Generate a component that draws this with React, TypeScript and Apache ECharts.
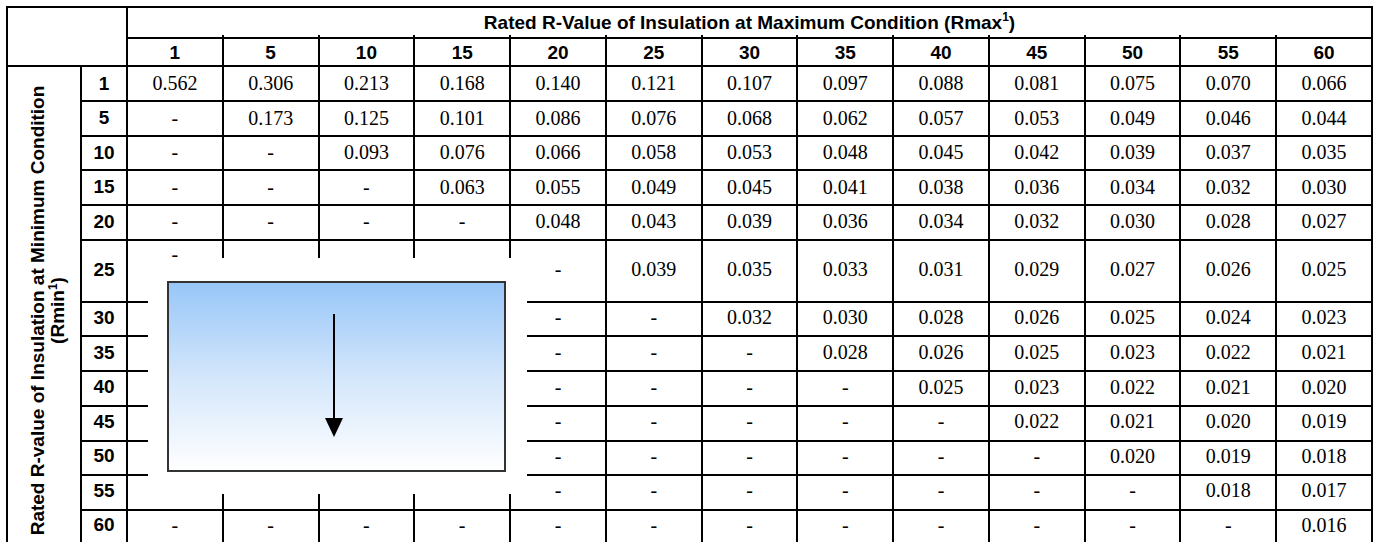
import React, { useEffect, useRef } from "react";
import * as echarts from "echarts";

// ---------- data ----------
const rmaxLabels = ["1", "5", "10", "15", "20", "25", "30", "35", "40", "45", "50", "55", "60"];
const rminLabels = ["1", "5", "10", "15", "20", "25", "30", "35", "40", "45", "50", "55", "60"];

// null = "-" (not applicable)
const r1 = [0.562, 0.306, 0.213, 0.168, 0.14, 0.121, 0.107, 0.097, 0.088, 0.081, 0.075, 0.07, 0.066];
const r5 = [null, 0.173, 0.125, 0.101, 0.086, 0.076, 0.068, 0.062, 0.057, 0.053, 0.049, 0.046, 0.044];
const r10 = [null, null, 0.093, 0.076, 0.066, 0.058, 0.053, 0.048, 0.045, 0.042, 0.039, 0.037, 0.035];
const r15 = [null, null, null, 0.063, 0.055, 0.049, 0.045, 0.041, 0.038, 0.036, 0.034, 0.032, 0.03];
const r20 = [null, null, null, null, 0.048, 0.043, 0.039, 0.036, 0.034, 0.032, 0.03, 0.028, 0.027];
const r25 = [null, null, null, null, null, 0.039, 0.035, 0.033, 0.031, 0.029, 0.027, 0.026, 0.025];
const r30 = [null, null, null, null, null, null, 0.032, 0.03, 0.028, 0.026, 0.025, 0.024, 0.023];
const r35 = [null, null, null, null, null, null, null, 0.028, 0.026, 0.025, 0.023, 0.022, 0.021];
const r40 = [null, null, null, null, null, null, null, null, 0.025, 0.023, 0.022, 0.021, 0.02];
const r45 = [null, null, null, null, null, null, null, null, null, 0.022, 0.021, 0.02, 0.019];
const r50 = [null, null, null, null, null, null, null, null, null, null, 0.02, 0.019, 0.018];
const r55 = [null, null, null, null, null, null, null, null, null, null, null, 0.018, 0.017];
const r60 = [null, null, null, null, null, null, null, null, null, null, null, null, 0.016];
const tableRows: (number | null)[][] = [r1, r5, r10, r15, r20, r25, r30, r35, r40, r45, r50, r55, r60];

const xTitle = "Rated R-Value of Insulation at Maximum Condition (Rmax";
const yTitle = "Rated R-value of Insulation at Minimum Condition";

// ---------- layout (not data) ----------
const L = { left: 7, right: 1372, top: 7, mid: 38, head: 66, bottom: 545, rowCol: 81, data: 127 };
const ROW_UNITS = [1, 1, 1, 1, 1, 1.78, 1, 1, 1, 1, 1, 1, 1];
const SANS = "Arial, 'Liberation Sans', Helvetica, sans-serif";
const SERIF = "'Times New Roman', 'Liberation Serif', serif";
const HEAD_FS = 19;
const CELL_FS = 20;

const rowStart: number[] = [];
let acc = 0;
ROW_UNITS.forEach((u) => {
  rowStart.push(acc);
  acc += u;
});
const TOTAL_UNITS = acc;
const rowCenters = ROW_UNITS.map((u, i) => rowStart[i] + u / 2);

// hidden area (covered by annotation): rows 25..55, columns 1..15
const isHidden = (r: number, c: number) => r >= 5 && r <= 11 && c <= 3 && !(r === 5 && c === 0);

type Cell = { col: number; y0: number; y1: number; text: string; atTop: boolean };
const cells: Cell[] = [];
tableRows.forEach((vals, r) =>
  vals.forEach((v, c) => {
    if (isHidden(r, c)) return;
    cells.push({
      col: c,
      y0: rowStart[r],
      y1: rowStart[r] + ROW_UNITS[r],
      text: v == null ? "-" : v.toFixed(3),
      atTop: r === 5 && c === 0,
    });
  })
);

function buildGraphic() {
  const unit = (L.bottom - L.head) / TOTAL_UNITS;
  const yOf = (u: number) => Math.round(L.head + u * unit);
  const colW = (L.right - L.data) / 13;
  const xOf = (j: number) => Math.round(L.data + j * colW);
  const els: any[] = [];
  const line = (x1: number, y1: number, x2: number, y2: number) =>
    els.push({
      type: "line",
      shape: { x1, y1, x2, y2 },
      style: { stroke: "#000", lineWidth: 2 },
      silent: true,
    });
  // outer frame
  line(L.left, L.top, L.right, L.top);
  line(L.left, L.top - 1, L.left, L.bottom);
  line(L.right, L.top - 1, L.right, L.bottom);
  line(L.left, L.bottom, L.right, L.bottom);
  // header lines
  line(L.data, L.mid, L.right, L.mid);
  line(L.left, L.head, L.right, L.head);
  line(L.data, L.top, L.data, L.bottom);
  line(L.rowCol, L.head, L.rowCol, L.bottom);
  // row boundaries
  for (let i = 1; i < ROW_UNITS.length; i++) {
    const y = yOf(rowStart[i]);
    if (i >= 6 && i <= 11) {
      line(L.rowCol, y, L.data + 21, y);
      line(xOf(4) + 17, y, L.right, y);
    } else {
      line(L.rowCol, y, L.right, y);
    }
  }
  // column boundaries
  for (let j = 1; j < 13; j++) {
    const x = xOf(j);
    if (j <= 4) {
      line(x, L.mid - 3, x, yOf(rowStart[5]) + 18);
      line(x, yOf(rowStart[12]) - 16, x, L.bottom);
    } else {
      line(x, L.mid - 3, x, L.bottom);
    }
  }
  // annotation box with arrow
  els.push({
    type: "rect",
    shape: { x: 168, y: 282, width: 337, height: 189 },
    style: {
      fill: new echarts.graphic.LinearGradient(0, 0, 0, 1, [
        { offset: 0, color: "#97c6f8" },
        { offset: 0.5, color: "#d3e6fb" },
        { offset: 1, color: "#ffffff" },
      ]),
      stroke: "#333",
      lineWidth: 2,
    },
    silent: true,
  });
  els.push({
    type: "line",
    shape: { x1: 334, y1: 314, x2: 334, y2: 420 },
    style: { stroke: "#000", lineWidth: 2 },
    silent: true,
  });
  els.push({
    type: "polygon",
    shape: { points: [[325, 418], [343, 418], [334, 437]] },
    style: { fill: "#000" },
    silent: true,
  });
  return els;
}

export default function App() {
  const ref = useRef<HTMLDivElement>(null);
  useEffect(() => {
    if (!ref.current) return;
    const chart = echarts.init(ref.current, null, { renderer: "svg" });
    chart.setOption({
      animation: false,
      backgroundColor: "#fff",
      grid: { left: L.data, top: L.head, width: L.right - L.data, height: L.bottom - L.head },
      xAxis: {
        type: "category",
        position: "top",
        data: rmaxLabels,
        boundaryGap: true,
        axisLine: { show: false },
        axisTick: { show: false },
        splitLine: { show: false },
        axisLabel: {
          interval: 0,
          margin: 14,
          verticalAlign: "middle",
          color: "#000",
          fontFamily: SANS,
          fontWeight: "bold",
          fontSize: HEAD_FS,
        },
        name: `{t|${xTitle}}{s|1}{t|)}`,
        nameLocation: "middle",
        nameGap: 44,
        nameTextStyle: {
          verticalAlign: "middle",
          rich: {
            t: { fontFamily: SANS, fontWeight: "bold", fontSize: HEAD_FS, color: "#000", lineHeight: 22 },
            s: {
              fontFamily: SANS,
              fontWeight: "bold",
              fontSize: 12,
              color: "#000",
              lineHeight: 22,
              verticalAlign: "top",
            },
          },
        },
      },
      yAxis: {
        type: "value",
        inverse: true,
        min: 0,
        max: TOTAL_UNITS,
        axisLine: { show: false },
        axisTick: { show: false },
        splitLine: { show: false },
        axisLabel: {
          customValues: rowCenters,
          margin: 23,
          align: "center",
          color: "#000",
          fontFamily: SANS,
          fontWeight: "bold",
          fontSize: HEAD_FS,
          formatter: (v: number) => {
            let best = 0;
            rowCenters.forEach((c, i) => {
              if (Math.abs(c - v) < Math.abs(rowCenters[best] - v)) best = i;
            });
            return rminLabels[best];
          },
        },
        name: `{t|${yTitle}}\n{t|(Rmin}{s|1}{t|)}`,
        nameLocation: "middle",
        nameRotate: 90,
        nameGap: 80,
        nameTextStyle: {
          verticalAlign: "middle",
          align: "center",
          padding: [0, 13, 0, 0],
          rich: {
            t: { fontFamily: SANS, fontWeight: "bold", fontSize: HEAD_FS, color: "#000", lineHeight: 20, align: "center" },
            s: {
              fontFamily: SANS,
              fontWeight: "bold",
              fontSize: 12,
              color: "#000",
              lineHeight: 20,
              verticalAlign: "top",
            },
          },
        },
      },
      series: [
        {
          type: "custom",
          coordinateSystem: "cartesian2d",
          data: cells.map((c) => [c.col, c.y0, c.y1]),
          renderItem: (params: any, api: any) => {
            const cell = cells[params.dataIndex];
            const p0 = api.coord([cell.col, cell.y0]);
            const p1 = api.coord([cell.col, cell.y1]);
            const cy = cell.atTop ? p0[1] + 15 : (p0[1] + p1[1]) / 2;
            return {
              type: "text",
              x: p0[0],
              y: cy,
              style: {
                text: cell.text,
                fill: "#000",
                fontFamily: SERIF,
                fontSize: CELL_FS,
                align: "center",
                verticalAlign: "middle",
                textAlign: "center",
                textVerticalAlign: "middle",
              },
            };
          },
        },
      ],
      graphic: buildGraphic(),
    });
    return () => chart.dispose();
  }, []);
  return (
    <div
      ref={ref}
      style={{ position: "fixed", left: 0, top: 0, width: 1377, height: 542, background: "#fff" }}
    />
  );
}
